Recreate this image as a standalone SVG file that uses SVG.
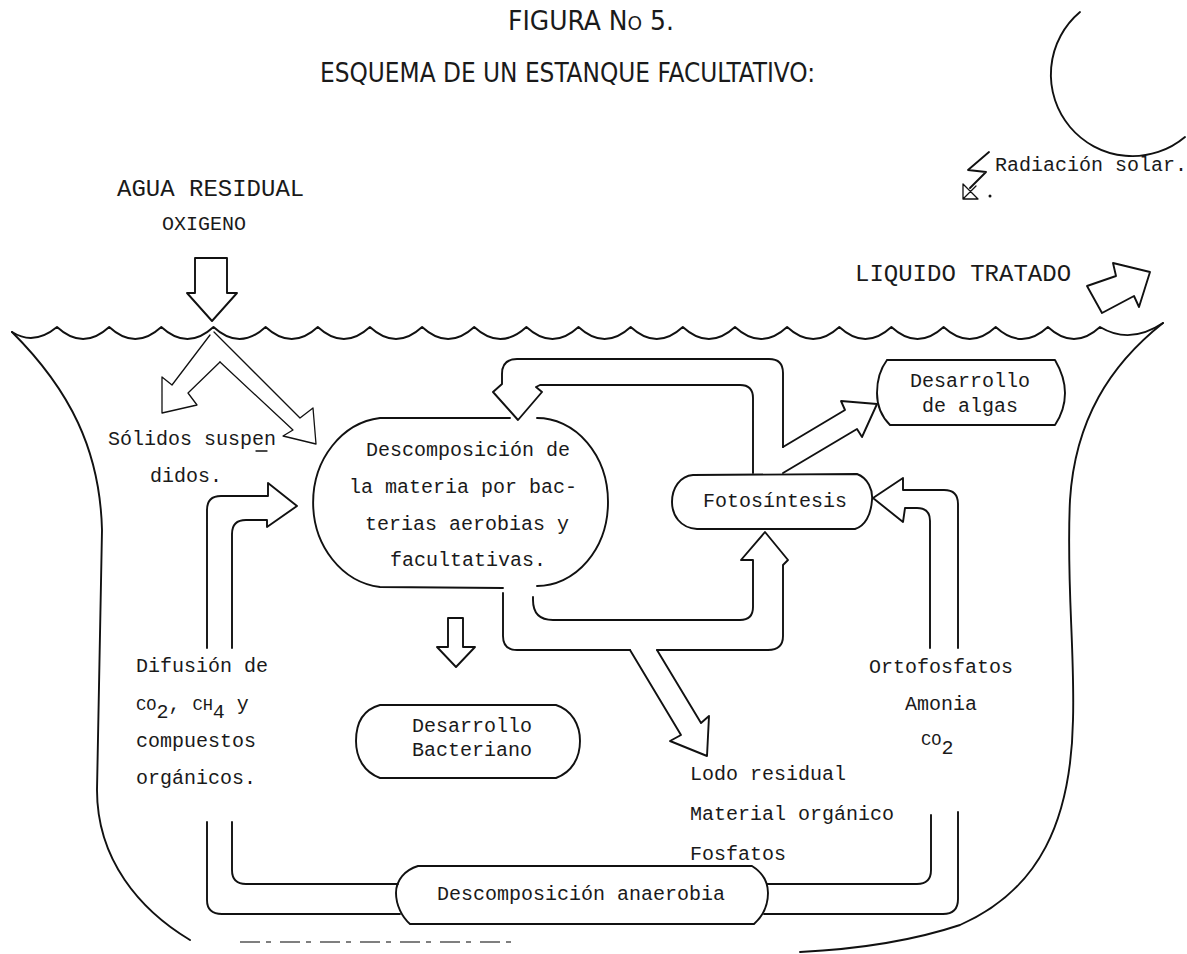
<svg xmlns="http://www.w3.org/2000/svg" width="1187" height="954" viewBox="0 0 1187 954">
<style>
.ln{fill:none;stroke:#111;stroke-width:1.9;stroke-linejoin:round;stroke-linecap:round}
.th{fill:none;stroke:#111;stroke-width:1.3;stroke-linejoin:round;stroke-linecap:round}
.tx{font-family:"Liberation Mono","Courier New",monospace;font-size:20px;fill:#1a1a1a}
.big{font-size:24px}
.ttl{font-family:"DejaVu Sans","Liberation Sans",sans-serif;font-stretch:condensed;font-size:27px;fill:#1a1a1a}
</style>
<rect width="1187" height="954" fill="#fff"/>

<g id="title">
<text class="ttl" x="508" y="30" textLength="166" lengthAdjust="spacingAndGlyphs">FIGURA N<tspan font-size="20">O</tspan> 5.</text>
<text class="ttl" x="320" y="82" textLength="495" lengthAdjust="spacingAndGlyphs">ESQUEMA DE UN ESTANQUE FACULTATIVO:</text>
</g>

<g id="sun">
<path class="ln" d="M1080,12 A80,80 0 0,0 1185,137"/>
<path class="ln" d="M989,152 L968,170 L986,172 L970,188"/>
<path class="th" d="M963,184 L963,199 L978,199 Z M963,199 L976,186"/>
<circle cx="990" cy="196" r="1.5" fill="#111"/>
<text class="tx" x="995" y="171" font-size="19.5">Radiación solar.</text>
</g>

<g id="pond">
<path class="ln" d="M12,332 Q34,346 57,327 Q83.1,351 109.2,327 Q135.25,351 161.3,327 Q187.4,351 213.5,327 Q239.55,351 265.6,327 Q291.7,351 317.8,327 Q343.85,351 369.9,327 Q396,351 422.1,327 Q448.15,351 474.2,327 Q500.3,351 526.4,327 Q552.45,351 578.5,327 Q604.6,351 630.7,327 Q656.75,351 682.8,327 Q708.9,351 735,327 Q761.05,351 787.1,327 Q813.2,351 839.3,327 Q865.35,351 891.4,327 Q917.5,351 943.6,327 Q969.65,351 995.7,327 Q1021.8,351 1047.9,327 Q1073.95,351 1100,327 Q1130,345 1163,323"/>
<path class="ln" d="M12,332 C70,390 100,450 102,530 L97,790 C97,860 140,910 190,940"/>
<path class="ln" d="M1163,323 C1110,365 1075,420 1070,500 C1066,580 1075,650 1073,720 C1071,820 1040,890 960,925 C900,945 840,950 800,952"/>
<path d="M240,942 L520,942" fill="none" stroke="#555" stroke-width="1.5" stroke-dasharray="20 6 5 9"/>
</g>

<g id="agua-residual">
<text class="tx big" x="117" y="196">AGUA RESIDUAL</text>
<text class="tx" x="162" y="230">OXIGENO</text>
</g>

<g id="liquido-tratado">
<text class="tx big" x="855" y="281">LIQUIDO TRATADO</text>
</g>

<g id="solidos">
<text class="tx" x="108" y="445" font-size="19">Sólidos suspen</text>
<path class="th" d="M256,451 L267,451"/>
<text class="tx" x="150" y="482" font-size="19">didos.</text>
</g>

<g id="descomposicion">
<path class="ln" d="M380,418 L510,418 M537,418 A71,84 0 0,1 537,586 M503,588 L380,587 A75,85 0 0,1 380,418"/>
<text class="tx" x="468" y="456" text-anchor="middle" font-size="19.5">Descomposición de</text>
<text class="tx" x="463" y="493" text-anchor="middle" font-size="19.5">la materia por bac-</text>
<text class="tx" x="467" y="530" text-anchor="middle" font-size="19.5">terias aerobias y</text>
<text class="tx" x="468" y="566" text-anchor="middle" font-size="19.5">facultativas.</text>
</g>

<g id="fotosintesis">
<path class="ln" d="M693,475 L857,474 C868,478 873,490 872,500 C871,515 865,526 855,529 L697,529 C680,528 672,515 672,502 C672,488 680,476 693,475 Z"/>
<text class="tx" x="775" y="507" text-anchor="middle">Fotosíntesis</text>
</g>

<g id="algas">
<path class="ln" d="M887,360 L1055,360 C1062,372 1065,382 1065,393 C1065,405 1061,416 1055,425 L890,425 C881,416 877,405 877,393 C877,380 881,368 887,360"/>
<text class="tx" x="970" y="387" text-anchor="middle">Desarrollo</text>
<text class="tx" x="970" y="412" text-anchor="middle">de algas</text>
</g>

<g id="bacteriano">
<path class="ln" d="M380,705 L556,705 C572,710 580,725 580,741 C580,758 572,772 556,778 L380,778 C364,772 356,758 356,741 C356,725 362,710 380,705 Z"/>
<text class="tx" x="472" y="732" text-anchor="middle">Desarrollo</text>
<text class="tx" x="472" y="756" text-anchor="middle">Bacteriano</text>
</g>

<g id="anaerobia">
<path class="ln" d="M418,866 L752,866 C763,873 768,882 768,893 C768,905 763,916 754,924 L410,924 C402,917 396,905 396,893 C396,880 405,870 418,866 Z"/>
<text class="tx" x="581" y="900" text-anchor="middle">Descomposición anaerobia</text>
</g>

<g id="difusion-label">
<text class="tx" x="136" y="672">Difusión de</text>
<text class="tx" x="136" y="710"><tspan font-size="17">CO</tspan><tspan dy="8">2</tspan><tspan dy="-8">, </tspan><tspan font-size="17">CH</tspan><tspan dy="8">4</tspan><tspan dy="-8">  y</tspan></text>
<text class="tx" x="136" y="747">compuestos</text>
<text class="tx" x="136" y="784">orgánicos.</text>
</g>

<g id="nutrientes-label">
<text class="tx" x="941" y="673" text-anchor="middle">Ortofosfatos</text>
<text class="tx" x="941" y="710" text-anchor="middle">Amonia</text>
<text class="tx" x="921" y="745"><tspan font-size="17">CO</tspan><tspan dy="9">2</tspan></text>
</g>

<g id="lodo-label">
<text class="tx" x="690" y="780">Lodo residual</text>
<text class="tx" x="690" y="820">Material orgánico</text>
<text class="tx" x="690" y="860">Fosfatos</text>
</g>

<g id="connectors">
<path class="ln" d="M195,258 L227,258 L227,293 L237,293 L212,321 L187,293 L195,293 Z"/>
<path class="th" d="M210,335 L172,385 L162,377 L162,413 L197,405 L188,393 L220,362"/>
<path class="th" d="M214,332 L300,418 L313,408 L316,444 L283,436 L293,430 L220,362"/>
<path class="ln" d="M1087,286 L1116,276 L1113,263 L1150,272 L1139,307 L1134,296 L1102,313 Z"/>
<path class="ln" d="M207,648 L207,510 Q207,496 221,496 L268,496 L268,483 L297,506 L267,527 L267,520 L246,520 Q232,520 232,534 L232,648"/>
<path class="ln" d="M958,648 L958,504 Q958,490 944,490 L903,490 L903,478 L873,498 L903,522 L905,508 L917,508 Q930,508 930,521 L930,648"/>
<path class="ln" d="M753,473 L753,398 Q753,385 740,385 L540,385 L536,387 L542,392 L518,420 L493,392 L502,384 L502,374 Q502,359 517,359 L769,359 Q783,359 783,373 L783,447"/>
<path class="ln" d="M783,447 L845,410 L841,401 L877,404 L862,437 L857,429 L783,473"/>
<path class="ln" d="M503,593 L503,636 Q503,650 517,650 L630,650 M657,650 L768,650 Q783,650 783,636 L783,565 L788,560 L765,532 L741,560 L753,560 L753,607 Q753,620 740,620 L553,620 Q533,620 533,600 L533,597"/>
<path class="ln" d="M630,650 L681,735 L670,741 L707,756 L709,716 L701,723 L657,650"/>
<path class="ln" d="M448,618 L463,618 L463,647 L475,647 L456,667 L437,647 L448,647 Z"/>
<path class="ln" d="M207,822 L207,900 Q207,914 222,914 L400,914 M232,822 L232,870 Q232,884 246,884 L398,884"/>
<path class="ln" d="M931,815 L931,870 Q931,884 917,884 L767,884 M958,812 L958,899 Q958,914 943,914 L764,914"/>
</g>
</svg>
